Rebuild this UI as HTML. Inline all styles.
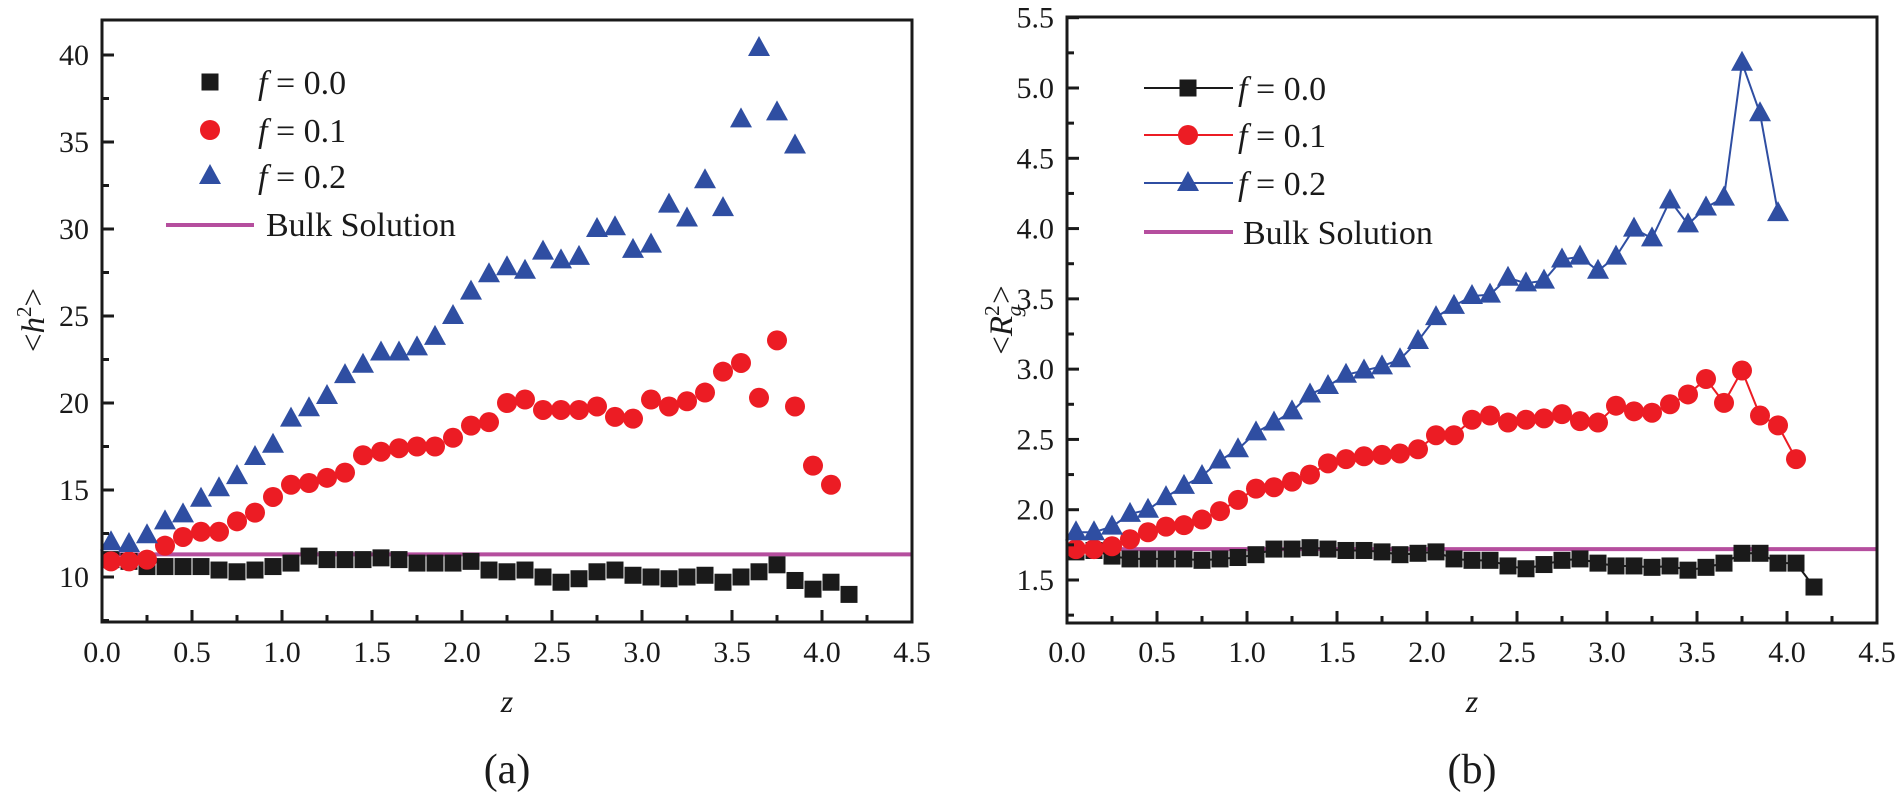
<!DOCTYPE html>
<html><head><meta charset="utf-8"><style>html,body{margin:0;padding:0;background:#fff;}svg{display:block}svg text{font-family:"Liberation Serif",serif;fill:#1a1a1a}</style></head>
<body>
<svg id="s" xmlns="http://www.w3.org/2000/svg" width="1900" height="800" viewBox="0 0 1900 800"></svg>
<script>
const S=document.getElementById('s');let h='';
function add(t){h+=t;}
function plot(o){
 const X=v=>o.x0+v*(o.x1-o.x0)/4.5, Y=v=>o.yA+(v-o.vA)*(o.yB-o.yA)/(o.vB-o.vA);
 const bottom=o.bot, top=o.top;
 add(`<line x1="${o.x0}" x2="${o.x1}" y1="${Y(o.bulk)}" y2="${Y(o.bulk)}" stroke="#b54e9e" stroke-width="4"/>`);
 const cols=['#1a1a1a','#ec1c24','#2f4ea2'];
 o.data.forEach((d,si)=>{
  const pts=d.map((v,i)=>[X(0.05+0.1*i),Y(v)]);
  if(o.lines) add(`<polyline fill="none" stroke="${cols[si]}" stroke-width="2" points="${pts.map(p=>p.join(',')).join(' ')}"/>`);
 });
 o.data.forEach((d,si)=>{
  d.forEach((v,i)=>{const x=X(0.05+0.1*i),y=Y(v);add(mk(si,x,y,cols[si]));});
 });
 add(`<rect x="${o.x0}" y="${top}" width="${o.x1-o.x0}" height="${bottom-top}" fill="none" stroke="#1a1a1a" stroke-width="3"/>`);
 for(let k=0;k<=18;k++){const v=k*0.25,x=X(v),maj=k%2==0;
  add(`<line x1="${x}" x2="${x}" y1="${bottom}" y2="${bottom-(maj?12:7)}" stroke="#1a1a1a" stroke-width="3"/>`);
  if(maj) add(`<text x="${x}" y="662" font-size="30" text-anchor="middle">${v.toFixed(1)}</text>`);}
 o.yt.forEach(([v,lab])=>{const y=Y(v);
  add(`<line x1="${o.x0}" x2="${o.x0+(lab!==null?12:7)}" y1="${y}" y2="${y}" stroke="#1a1a1a" stroke-width="3"/>`);
  if(lab!==null) add(`<text x="${o.x0-13}" y="${y+10}" font-size="30" text-anchor="end">${lab}</text>`);});
 add(`<text x="${(o.x0+o.x1)/2}" y="712" font-size="32" font-style="italic" text-anchor="middle">z</text>`);
 add(`<text x="${(o.x0+o.x1)/2}" y="783" font-size="42" text-anchor="middle">${o.cap}</text>`);
}
function mk(si,x,y,c){
 if(si==0) return `<rect x="${x-8.5}" y="${y-8.5}" width="17" height="17" fill="${c}"/>`;
 if(si==1) return `<circle cx="${x}" cy="${y}" r="10" fill="${c}"/>`;
 return `<polygon points="${x},${y-12} ${x+11},${y+8} ${x-11},${y+8}" fill="${c}"/>`;
}
const L0=[11.0,10.9,10.6,10.6,10.6,10.6,10.4,10.3,10.4,10.6,10.8,11.2,11.0,11.0,11.0,11.1,11.0,10.8,10.8,10.8,10.9,10.4,10.3,10.4,10.0,9.7,9.9,10.3,10.4,10.1,10.0,9.9,10.0,10.1,9.7,10.0,10.3,10.7,9.8,9.3,9.7,9.0];
const L1=[10.9,10.9,11.0,11.8,12.3,12.6,12.6,13.2,13.7,14.6,15.3,15.4,15.7,16.0,17.0,17.2,17.4,17.5,17.5,18.0,18.7,18.9,20.0,20.2,19.6,19.6,19.6,19.8,19.2,19.1,20.2,19.8,20.1,20.6,21.8,22.3,20.3,23.6,19.8,16.4,15.3];
const L2=[12.0,11.9,12.4,13.2,13.6,14.5,15.1,15.8,16.9,17.6,19.1,19.7,20.4,21.6,22.2,22.9,22.9,23.2,23.8,25.0,26.4,27.4,27.8,27.6,28.7,28.2,28.4,30.0,30.1,28.8,29.1,31.4,30.6,32.8,31.2,36.3,40.4,36.7,34.8];
const ytL=[];for(let v=7.5;v<=42;v+=2.5)ytL.push([v,v%5==0&&v>=10?String(v):null]);
plot({x0:102,x1:912,top:20,bot:622,yA:577,vA:10,yB:55,vB:40,bulk:11.3,data:[L0,L1,L2],lines:false,yt:ytL,cap:'(a)'});
const R0=[1.70,1.71,1.67,1.65,1.65,1.65,1.65,1.64,1.65,1.66,1.68,1.72,1.72,1.73,1.72,1.71,1.71,1.70,1.68,1.69,1.70,1.65,1.64,1.64,1.60,1.58,1.61,1.64,1.65,1.62,1.60,1.60,1.59,1.60,1.57,1.59,1.62,1.69,1.69,1.62,1.62,1.45];
const R1=[1.72,1.72,1.74,1.79,1.84,1.88,1.89,1.93,1.99,2.07,2.15,2.16,2.20,2.25,2.33,2.36,2.38,2.39,2.40,2.43,2.53,2.53,2.64,2.67,2.62,2.64,2.65,2.68,2.63,2.62,2.74,2.70,2.69,2.75,2.82,2.93,2.76,2.99,2.67,2.60,2.36];
const R2=[1.84,1.84,1.88,1.97,2.00,2.09,2.17,2.24,2.35,2.43,2.55,2.62,2.70,2.82,2.88,2.96,2.99,3.02,3.07,3.20,3.37,3.45,3.52,3.53,3.65,3.61,3.63,3.78,3.80,3.70,3.80,4.00,3.93,4.20,4.03,4.15,4.22,5.18,4.82,4.11];
const ytR=[];for(let k=0;k<=17;k++){const v=1.25+k*0.25;ytR.push([v,(k%2==1)?v.toFixed(1):null]);}
plot({x0:1067,x1:1877,top:17,bot:623,yA:580,vA:1.5,yB:88,vB:5.0,bulk:1.72,data:[R0,R1,R2],lines:true,yt:ytR,cap:'(b)'});
const cols=['#1a1a1a','#ec1c24','#2f4ea2'];
[82,130,176].forEach((y,i)=>{add(mk(i,210,y,cols[i]));add(`<text x="258" y="${y+12}" font-size="34"><tspan font-style="italic">f</tspan> = 0.${i}</text>`);});
add(`<line x1="166" x2="254" y1="225" y2="225" stroke="#b54e9e" stroke-width="4"/><text x="266" y="236" font-size="34">Bulk Solution</text>`);
[88,135,183].forEach((y,i)=>{add(`<line x1="1144" x2="1233" y1="${y}" y2="${y}" stroke="${cols[i]}" stroke-width="2"/>`);add(mk(i,1188,y,cols[i]));add(`<text x="1238" y="${y+12}" font-size="34"><tspan font-style="italic">f</tspan> = 0.${i}</text>`);});
add(`<line x1="1144" x2="1233" y1="232" y2="232" stroke="#b54e9e" stroke-width="4"/><text x="1243" y="244" font-size="34">Bulk Solution</text>`);
add(`<text transform="translate(44,320) rotate(-90)" font-size="33" text-anchor="middle">&lt;<tspan font-style="italic">h</tspan><tspan font-size="21" dy="-13">2</tspan><tspan dy="13">&gt;</tspan></text>`);
add(`<text transform="translate(1012,320) rotate(-90)" font-size="33" text-anchor="middle">&lt;<tspan font-style="italic">R</tspan><tspan font-size="21" dy="-13">2</tspan><tspan font-size="21" font-style="italic" dx="-11" dy="22">g</tspan><tspan dy="-9" dx="2">&gt;</tspan></text>`);
S.innerHTML=h;
</script>
</body></html>
